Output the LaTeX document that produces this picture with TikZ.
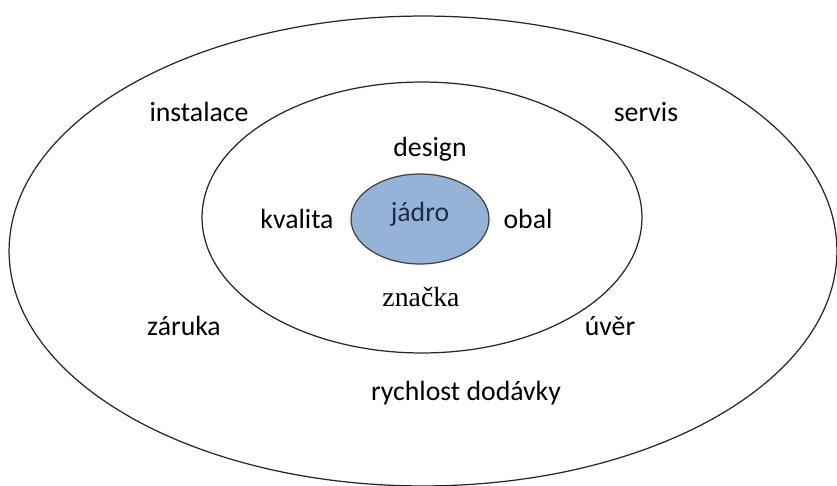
\documentclass[tikz,border=0pt]{standalone}
\usepackage{fontspec}
\setmainfont{Carlito}
\newfontfamily\brandfont{Liberation Serif}
\usepackage{xcolor}
\definecolor{coreblue}{HTML}{95B3D7}
\definecolor{corenavy}{HTML}{1F2B45}
\usetikzlibrary{shapes.geometric}

\begin{document}
\begin{tikzpicture}[
  x=0.02cm, y=-0.02cm,
  font=\fontsize{15.8}{19}\selectfont,
  ring/.style={draw=black!85, ellipse, line width=0.7pt, inner sep=0pt},
  core/.style={ring, fill=coreblue, draw=black!75, text=corenavy},
  lbl/.style={inner sep=0pt}
]
\useasboundingbox (0,0) rectangle (837,486);
\clip (0,0) rectangle (837,486);

% Rings
\node[ring, minimum width=16.56cm, minimum height=9.4cm] (outer) at (423,251) {};
\node[ring, minimum width=8.8cm, minimum height=5.42cm] (middle) at (422,217.5) {};
\node[core, minimum width=2.76cm, minimum height=1.8cm] (kernel) at (420,219) {};
\node[lbl, text=corenavy] (jadro) at (420,214) {jádro};

% Labels of the middle ring
\node[lbl] (design) at (430,149) {design};
\node[lbl] (kvalita) at (297,219) {kvalita};
\node[lbl] (obal) at (528,219) {obal};
\node[lbl, font=\fontsize{15.8}{19}\selectfont\brandfont] (znacka) at (421,297) {značka};

% Labels of the outer ring
\node[lbl] (instalace) at (199,112) {instalace};
\node[lbl] (servis) at (646,112) {servis};
\node[lbl] (zaruka) at (184,326) {záruka};
\node[lbl] (uver) at (610,326) {úvěr};
\node[lbl] (rychlost) at (466,393) {rychlost dodávky};
\end{tikzpicture}
\end{document}
